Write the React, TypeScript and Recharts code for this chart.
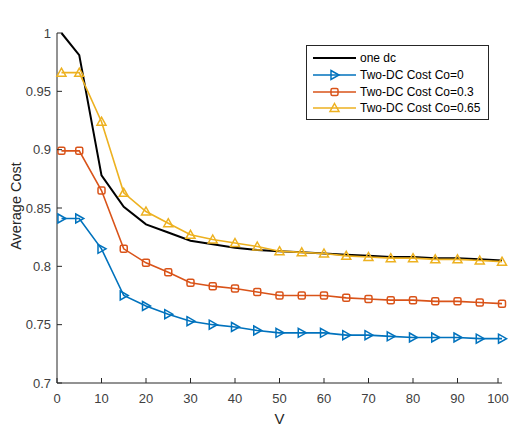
import { LineChart, Line, XAxis, YAxis, Legend } from "recharts";

// V values where each series was sampled
const vValues = [1, 5, 10, 15, 20, 25, 30, 35, 40, 45, 50, 55, 60, 65, 70, 75, 80, 85, 90, 95, 100];

const oneDc = [1.0, 0.981, 0.878, 0.851, 0.836, 0.829, 0.822, 0.819, 0.816, 0.814, 0.813, 0.812, 0.811, 0.81, 0.809, 0.808, 0.808, 0.807, 0.807, 0.806, 0.805];
const costCo0 = [0.841, 0.841, 0.815, 0.775, 0.766, 0.759, 0.753, 0.75, 0.748, 0.745, 0.743, 0.743, 0.743, 0.741, 0.741, 0.74, 0.739, 0.739, 0.739, 0.738, 0.738];
const costCo03 = [0.899, 0.899, 0.865, 0.815, 0.803, 0.795, 0.786, 0.783, 0.781, 0.778, 0.775, 0.775, 0.775, 0.773, 0.772, 0.771, 0.771, 0.77, 0.77, 0.769, 0.768];
const costCo065 = [0.966, 0.966, 0.924, 0.863, 0.847, 0.837, 0.827, 0.823, 0.82, 0.817, 0.813, 0.812, 0.811, 0.809, 0.808, 0.807, 0.807, 0.806, 0.806, 0.805, 0.804];

const xTicks = [0, 10, 20, 30, 40, 50, 60, 70, 80, 90, 100];
const yTicks = [0.7, 0.75, 0.8, 0.85, 0.9, 0.95, 1];

const data = vValues.map((v, i) => ({
  v,
  oneDc: oneDc[i],
  co0: costCo0[i],
  co03: costCo03[i],
  co065: costCo065[i],
}));

const FONT = '"Liberation Sans", Arial, Helvetica, sans-serif';
const AXIS = "#262626";
const TICK_TEXT = "#404040";
const BLUE = "#0072BD";
const ORANGE = "#D95319";
const YELLOW = "#EDB120";

type MarkerKind = "none" | "right" | "square" | "up";

function markerShape(kind: MarkerKind, cx: number, cy: number, color: string, key?: any) {
  if (kind === "right") {
    return (
      <path key={key} d={`M${cx - 3.5},${cy - 4.5} L${cx + 4.5},${cy} L${cx - 3.5},${cy + 4.5} Z`} fill="none" stroke={color} strokeWidth={1.5} />
    );
  }
  if (kind === "square") {
    return <rect key={key} x={cx - 3.5} y={cy - 3.5} width={7} height={7} rx={1.5} fill="none" stroke={color} strokeWidth={1.5} />;
  }
  if (kind === "up") {
    return (
      <path key={key} d={`M${cx},${cy - 4.5} L${cx + 4.5},${cy + 3.5} L${cx - 4.5},${cy + 3.5} Z`} fill="none" stroke={color} strokeWidth={1.5} />
    );
  }
  return <g key={key} />;
}

const dotFor = (kind: MarkerKind, color: string) => (props: any) =>
  markerShape(kind, props.cx, props.cy, color, `${kind}-${props.index}`);

const series = [
  { key: "oneDc", name: "one dc", color: "#000000", marker: "none" as MarkerKind, width: 2 },
  { key: "co0", name: "Two-DC Cost Co=0", color: BLUE, marker: "right" as MarkerKind, width: 1.6 },
  { key: "co03", name: "Two-DC Cost Co=0.3", color: ORANGE, marker: "square" as MarkerKind, width: 1.6 },
  { key: "co065", name: "Two-DC Cost Co=0.65", color: YELLOW, marker: "up" as MarkerKind, width: 1.6 },
];

function BottomTick({ x, y, payload }: any) {
  return (
    <g>
      <line x1={x} y1={y} x2={x} y2={y - 5} stroke={AXIS} />
      <text x={x} y={y + 20} textAnchor="middle" fontSize={13} fontFamily={FONT} fill={TICK_TEXT}>
        {payload.value}
      </text>
    </g>
  );
}

function LeftTick({ x, y, payload }: any) {
  return (
    <g>
      <line x1={x} y1={y} x2={x + 5} y2={y} stroke={AXIS} />
      <text x={x - 6} y={y + 4.5} textAnchor="end" fontSize={13} fontFamily={FONT} fill={TICK_TEXT}>
        {String(payload.value)}
      </text>
    </g>
  );
}

function TopTick({ x, y }: any) {
  return <line x1={x} y1={y} x2={x} y2={y + 5} stroke={AXIS} />;
}

function RightTick({ x, y }: any) {
  return <line x1={x} y1={y} x2={x - 5} y2={y} stroke={AXIS} />;
}

function LegendBox() {
  return (
    <div
      style={{
        width: 183,
        height: 75,
        boxSizing: "border-box",
        border: `1px solid ${AXIS}`,
        background: "#fff",
        paddingTop: 4,
        fontFamily: FONT,
        fontSize: 12,
        color: "#000",
      }}
    >
      {series.map((s) => (
        <div key={s.key} style={{ height: 16.7, display: "flex", alignItems: "center", paddingLeft: 6 }}>
          <svg width={43} height={12} style={{ marginRight: 4, flex: "none" }}>
            <line x1={0} y1={6} x2={43} y2={6} stroke={s.color} strokeWidth={s.width} />
            {markerShape(s.marker, 21.5, 6, s.color)}
          </svg>
          <span style={{ whiteSpace: "nowrap" }}>{s.name}</span>
        </div>
      ))}
    </div>
  );
}

export default function App() {
  return (
    <div style={{ position: "absolute", left: 0, top: 0, width: 510, height: 427, background: "#fff" }}>
      <LineChart width={510} height={427} data={data} margin={{ top: 33, right: 8, bottom: 0, left: 0 }}>
        <XAxis
          dataKey="v"
          type="number"
          domain={[0, 100]}
          ticks={xTicks}
          height={44}
          stroke={AXIS}
          tickLine={false}
          tickSize={0}
          tickMargin={0}
          tick={<BottomTick />}
          label={{
            content: () => (
              <text x={279.5} y={424} textAnchor="middle" fontSize={15} fontFamily={FONT} fill={AXIS}>
                V
              </text>
            ),
          }}
        />
        <XAxis
          xAxisId="top"
          orientation="top"
          dataKey="v"
          type="number"
          domain={[0, 100]}
          ticks={xTicks}
          height={0}
          stroke={AXIS}
          tickLine={false}
          tickSize={0}
          tickMargin={0}
          tick={<TopTick />}
          label={{
            content: () => (
              <text x={280} y={23.5} textAnchor="middle" fontSize={16} fontWeight="bold" fontFamily={FONT} fill="#000">
                DC
                <tspan fontSize={11.5} dy={6.5}>1</tspan>
                <tspan dy={-6.5}>=W &amp; DC</tspan>
                <tspan fontSize={11.5} dy={6.5}>2</tspan>
                <tspan dy={-6.5}>=W</tspan>
              </text>
            ),
          }}
        />
        <YAxis
          type="number"
          domain={[0.7, 1]}
          ticks={yTicks}
          width={57}
          stroke={AXIS}
          tickLine={false}
          tickSize={0}
          tickMargin={0}
          tick={<LeftTick />}
          label={{
            content: () => (
              <text
                x={16}
                y={206}
                transform="rotate(-90, 16, 206)"
                textAnchor="middle"
                dominantBaseline="central"
                fontSize={14.5}
                fontFamily={FONT}
                fill={AXIS}
              >
                Average Cost
              </text>
            ),
          }}
        />
        <YAxis
          yAxisId="right"
          orientation="right"
          type="number"
          domain={[0.7, 1]}
          ticks={yTicks}
          width={0}
          stroke={AXIS}
          tickLine={false}
          tickSize={0}
          tickMargin={0}
          tick={<RightTick />}
        />
        <Legend
          layout="vertical"
          align="center"
          verticalAlign="middle"
          wrapperStyle={{ position: "absolute", left: 306, top: 45, width: 183, height: 75 }}
          content={() => <LegendBox />}
        />
        {series.map((s) => (
          <Line
            key={s.key}
            dataKey={s.key}
            name={s.name}
            type="linear"
            stroke={s.color}
            strokeWidth={s.width}
            dot={s.marker === "none" ? false : dotFor(s.marker, s.color)}
            activeDot={false}
            isAnimationActive={false}
          />
        ))}
      </LineChart>
    </div>
  );
}
